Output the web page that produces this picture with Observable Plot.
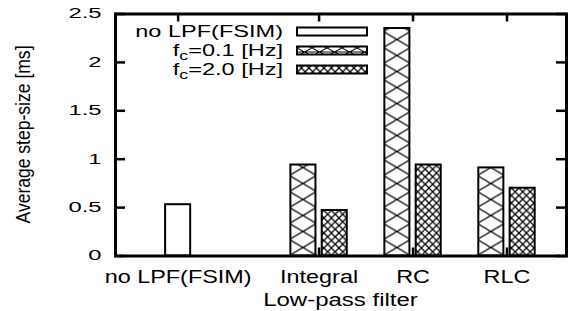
<!DOCTYPE html>
<html><head><meta charset="utf-8">
<script src="https://cdn.jsdelivr.net/npm/d3@7"></script>
<script src="https://cdn.jsdelivr.net/npm/@observablehq/plot@0.6"></script>
<style>
html,body{margin:0;padding:0;background:#fff;}
svg{display:block;font-family:"Liberation Sans",Arial,Helvetica,sans-serif;}
</style></head><body><div id="chart"></div>
<script>
// ---- data ----
const categories = ["no LPF(FSIM)", "Integral", "RC", "RLC"];
const seriesNames = ["no LPF(FSIM)", "f_c=0.1 [Hz]", "f_c=2.0 [Hz]"];
const noLpfValues = [0.53, null, null, null];
const fc01Values = [null, 0.94, 2.35, 0.91];
const fc20Values = [null, 0.47, 0.94, 0.70];
const yTickValues = [0, 0.5, 1, 1.5, 2, 2.5];
const xTitle = "Low-pass filter";
const yTitle = "Average step-size [ms]";

// ---- build table ----
const seriesValues = [noLpfValues, fc01Values, fc20Values];
const nSeries = seriesNames.length;
const rows = [];
seriesValues.forEach((vals, s) => vals.forEach((v, c) => {
  if (v != null) rows.push({category: categories[c], series: s, value: v, slot: c * nSeries + s});
}));
const catTicks = categories.map(c => ({pos: d3.mean(rows.filter(r => r.category === c), r => r.slot), label: c}));

// ---- layout ----
const W = 568, H = 311, mL = 115, mR = 2, mT = 13.5, mB = 55.5;
const fw = W - mL - mR, fh = H - mT - mB;
const halfBar = 0.4;
const fills = ["white", "url(#hatchWide)", "url(#hatchFine)"];

const plot = Plot.plot({
  width: W, height: H,
  marginLeft: mL, marginRight: mR, marginTop: mT, marginBottom: mB,
  x: {type: "linear", domain: [-2, 12.4], label: null},
  y: {domain: [0, 2.5], label: null},
  style: {background: "white", color: "black", fontFamily: '"Liberation Sans", Arial, Helvetica, sans-serif'},
  marks: [
    Plot.tickX(catTicks, {x: "pos", insetTop: fh - 8, stroke: "black", strokeWidth: 2.5}),
    Plot.tickX(catTicks, {x: "pos", insetBottom: fh - 8, stroke: "black", strokeWidth: 2.5}),
    Plot.tickY(yTickValues, {y: d => d, insetRight: fw - 10, stroke: "black", strokeWidth: 2.5}),
    Plot.tickY(yTickValues, {y: d => d, insetLeft: fw - 10, stroke: "black", strokeWidth: 2.5}),
    Plot.axisX(catTicks.map(t => t.pos), {tickSize: 0, tickPadding: 14, label: null, fontSize: 18,
      tickFormat: p => catTicks.find(t => t.pos === p).label}),
    Plot.axisY(yTickValues, {tickSize: 0, tickPadding: 14, label: null, fontSize: 14,
      tickFormat: d => String(d)}),
    ...seriesNames.map((name, s) => Plot.rect(rows.filter(r => r.series === s), {
      x1: r => r.slot - halfBar, x2: r => r.slot + halfBar, y1: r => 0, y2: "value",
      fill: fills[s], stroke: "black", strokeWidth: 2
    })),
    Plot.frame({stroke: "black", strokeWidth: 3})
  ]
});
document.getElementById("chart").append(plot);

const svg = d3.select(plot);
const xs = plot.scale("x");
const slotPx = xs.apply(1) - xs.apply(0);
const barPx = xs.apply(halfBar) - xs.apply(-halfBar);

// ---- patterns ----
const defs = svg.insert("defs", ":first-child");
const hW = 16;
const pw = defs.append("pattern").attr("id", "hatchWide").attr("patternUnits", "userSpaceOnUse")
  .attr("x", xs.apply(0) - slotPx / 2).attr("y", H - mB).attr("width", slotPx).attr("height", hW);
pw.append("rect").attr("width", slotPx).attr("height", hW).attr("fill", "white");
const cx = slotPx / 2, a = barPx / 2 + 1;
pw.append("path").attr("d", `M${cx - a},0L${cx + a},${hW}M${cx + a},0L${cx - a},${hW}`)
  .attr("stroke", "black").attr("stroke-width", 1.3).attr("fill", "none");

const fP = 7.5;
const pf = defs.append("pattern").attr("id", "hatchFine").attr("patternUnits", "userSpaceOnUse")
  .attr("x", xs.apply(1) - barPx / 2).attr("y", H - mB).attr("width", fP).attr("height", fP);
pf.append("rect").attr("width", fP).attr("height", fP).attr("fill", "white");
pf.append("path").attr("d", `M0,0L${fP},${fP}M${fP},0L0,${fP}`)
  .attr("stroke", "black").attr("stroke-width", 1.3).attr("fill", "none");

const lgW = 15, lgH = 8;
const pl = defs.append("pattern").attr("id", "hatchWideLegend").attr("patternUnits", "userSpaceOnUse")
  .attr("x", 297).attr("y", 0).attr("width", lgW).attr("height", lgH);
pl.append("rect").attr("width", lgW).attr("height", lgH).attr("fill", "white");
pl.append("path").attr("d", `M0,0L${lgW},${lgH}M${lgW},0L0,${lgH}M0,${lgH/2}L${lgW},${lgH/2}`)
  .attr("stroke", "black").attr("stroke-width", 1.1).attr("fill", "none");
const legendFills = ["white", "url(#hatchWideLegend)", "url(#hatchFine)"];

// ---- helpers ----
function stretch(sel, k) {
  sel.each(function () {
    const L = this.getComputedTextLength();
    this.setAttribute("textLength", (L * k).toFixed(2));
    this.setAttribute("lengthAdjust", "spacingAndGlyphs");
  });
}
function writeLabel(textSel, label, subSize) {
  const parts = label.split("_");
  if (parts.length === 1) { textSel.text(label); return; }
  textSel.append("tspan").text(parts[0]);
  textSel.append("tspan").attr("font-size", subSize).attr("dy", 4).text(parts[1][0]);
  textSel.append("tspan").attr("dy", -4).text(parts[1].slice(1));
}

// ---- legend ----
const leg = svg.append("g").attr("font-size", 16).attr("fill", "black");
seriesNames.forEach((name, s) => {
  const cy = 31.5 + s * 19;
  const t = leg.append("text").attr("x", 283).attr("y", cy + 5.5).attr("text-anchor", "end");
  writeLabel(t, name, 12);
  leg.append("rect").attr("x", 297).attr("y", cy - 4).attr("width", 70).attr("height", 8)
    .attr("fill", legendFills[s]).attr("stroke", "black").attr("stroke-width", 2);
});
stretch(leg.selectAll("text"), 1.47);

// ---- axis titles ----
const xt = svg.append("text").attr("x", mL + fw / 2).attr("y", 306).attr("text-anchor", "middle")
  .attr("font-size", 17.5).text(xTitle);
stretch(xt, 1.37);
const yt = svg.append("text").attr("transform", `translate(30,${mT + fh / 2}) rotate(-90)`)
  .attr("text-anchor", "middle").attr("font-size", 21).text(yTitle);
yt.attr("textLength", 178).attr("lengthAdjust", "spacingAndGlyphs");

// ---- stretch axis labels ----
stretch(svg.selectAll('g[aria-label="x-axis tick label"] text'), 1.3);
stretch(svg.selectAll('g[aria-label="y-axis tick label"] text'), 1.7);
</script></body></html>
